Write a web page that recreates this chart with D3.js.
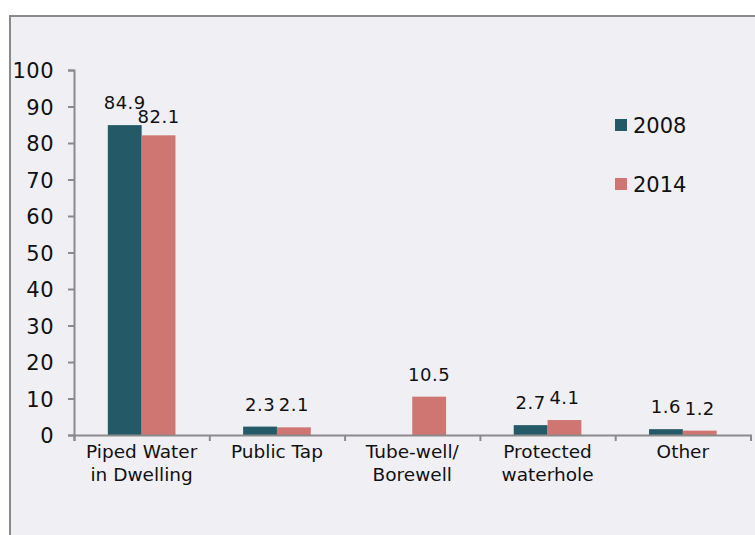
<!DOCTYPE html>
<html>
<head>
<meta charset="utf-8">
<script src="https://cdn.jsdelivr.net/npm/d3@7"></script>
<style>
  body { margin: 0; background: #fff; }
  text { font-family: "DejaVu Sans", Verdana, sans-serif; fill: #111; }
</style>
</head>
<body>
<svg id="chart"></svg>
<script>
var WIDTH = 755;
var HEIGHT = 535;

// data
var categories = ['Piped Water in Dwelling', 'Public Tap', 'Tube-well/ Borewell', 'Protected waterhole', 'Other'];
var categoryLines = [['Piped Water', 'in Dwelling'], ['Public Tap'], ['Tube-well/', 'Borewell'], ['Protected', 'waterhole'], ['Other']];
var series = ['2008', '2014'];
var values2008 = [84.9, 2.3, null, 2.7, 1.6];
var values2014 = [82.1, 2.1, 10.5, 4.1, 1.2];
var yTicks = [0, 10, 20, 30, 40, 50, 60, 70, 80, 90, 100];
var colors = ['#245a67', '#cf7673'];

var svg = d3.select('#chart')
    .attr('width', WIDTH)
    .attr('height', HEIGHT);

// panel background with border on left/top (rest runs off the picture)
svg.append('rect')
    .attr('x', 10).attr('y', 16)
    .attr('width', 800).attr('height', 600)
    .attr('fill', '#f0eff4')
    .attr('stroke', '#8a8a8a')
    .attr('stroke-width', 2);

var x0 = d3.scaleBand()
    .domain(categories)
    .range([74, 750.5])
    .padding(0);

var x1 = d3.scaleBand()
    .domain(series)
    .range([x0.bandwidth() * 0.25, x0.bandwidth() * 0.75])
    .padding(0);

var y = d3.scaleLinear()
    .domain([0, 100])
    .range([435, 70]);

// bars
var rows = categories.map(function(c, i) {
    return { cat: c, vals: [values2008[i], values2014[i]] };
});

var groups = svg.selectAll('g.cat')
    .data(rows)
    .enter()
    .append('g')
    .attr('class', 'cat')
    .attr('transform', function(d) { return 'translate(' + x0(d.cat) + ',0)'; });

var bars = groups.selectAll('g.bar')
    .data(function(d) {
        return series.map(function(s, j) { return { s: s, v: d.vals[j], j: j }; })
            .filter(function(e) { return e.v != null; });
    })
    .enter()
    .append('g')
    .attr('class', 'bar');

bars.append('rect')
    .attr('x', function(d) { return x1(d.s); })
    .attr('y', function(d) { return y(d.v); })
    .attr('width', x1.bandwidth())
    .attr('height', function(d) { return y(0) - y(d.v); })
    .attr('fill', function(d) { return colors[d.j]; });

bars.append('text')
    .attr('class', 'value')
    .attr('x', function(d) { return x1(d.s) + x1.bandwidth() / 2; })
    .attr('y', function(d) { return y(d.v) - 16; })
    .attr('text-anchor', 'middle')
    .style('font-size', '18px')
    .style('letter-spacing', '0.5px')
    .text(function(d) { return d.v.toFixed(1); });

// push the lower label down when the pair of labels in a group collides
groups.each(function() {
    var labels = d3.select(this).selectAll('text.value').nodes();
    if (labels.length < 2) return;
    var a = labels[0], b = labels[1];
    var gap = x1.bandwidth();
    var needed = (a.getComputedTextLength() + b.getComputedTextLength()) / 2 + 2;
    if (needed <= gap) return;
    var ya = +a.getAttribute('y'), yb = +b.getAttribute('y');
    if (Math.abs(ya - yb) >= 14) return;
    if (ya <= yb) b.setAttribute('y', ya + 14);
    else a.setAttribute('y', yb + 14);
});

// y axis
var yAxis = svg.append('g')
    .attr('transform', 'translate(74,0)')
    .call(d3.axisLeft(y).tickValues(yTicks).tickSize(6).tickPadding(14));
yAxis.selectAll('text')
    .style('font-size', '21px')
    .style('letter-spacing', '0.5px')
    .attr('dy', '0.36em');

// x axis: ticks on category boundaries
var xAxisScale = d3.scaleLinear().domain([0, categories.length]).range(x0.range());
var xAxis = svg.append('g')
    .attr('transform', 'translate(0,' + y(0) + ')')
    .call(d3.axisBottom(xAxisScale).tickValues(d3.range(categories.length + 1)).tickSize(6).tickFormat(''));

svg.selectAll('.domain, .tick line')
    .attr('stroke', '#8a8a8a')
    .attr('stroke-width', 2);

// category labels
var catLabels = svg.selectAll('text.catlabel')
    .data(categories)
    .enter()
    .append('text')
    .attr('class', 'catlabel')
    .attr('text-anchor', 'middle')
    .attr('transform', function(c) { return 'translate(' + (x0(c) + x0.bandwidth() / 2) + ',458)'; })
    .style('font-size', '18.5px');

catLabels.selectAll('tspan')
    .data(function(c, i) { return categoryLines[i]; })
    .enter()
    .append('tspan')
    .attr('x', 0)
    .attr('y', function(d, k) { return k * 23; })
    .text(function(d) { return d; });

// legend
var legend = svg.selectAll('g.legend')
    .data(series)
    .enter()
    .append('g')
    .attr('class', 'legend')
    .attr('transform', function(d, i) { return 'translate(615,' + (119 + i * 59) + ')'; });

legend.append('rect')
    .attr('width', 12)
    .attr('height', 12)
    .attr('fill', function(d, i) { return colors[i]; });

legend.append('text')
    .attr('x', 18)
    .attr('y', 13.5)
    .style('font-size', '21px')
    .text(function(d) { return d; });
</script>
</body>
</html>
